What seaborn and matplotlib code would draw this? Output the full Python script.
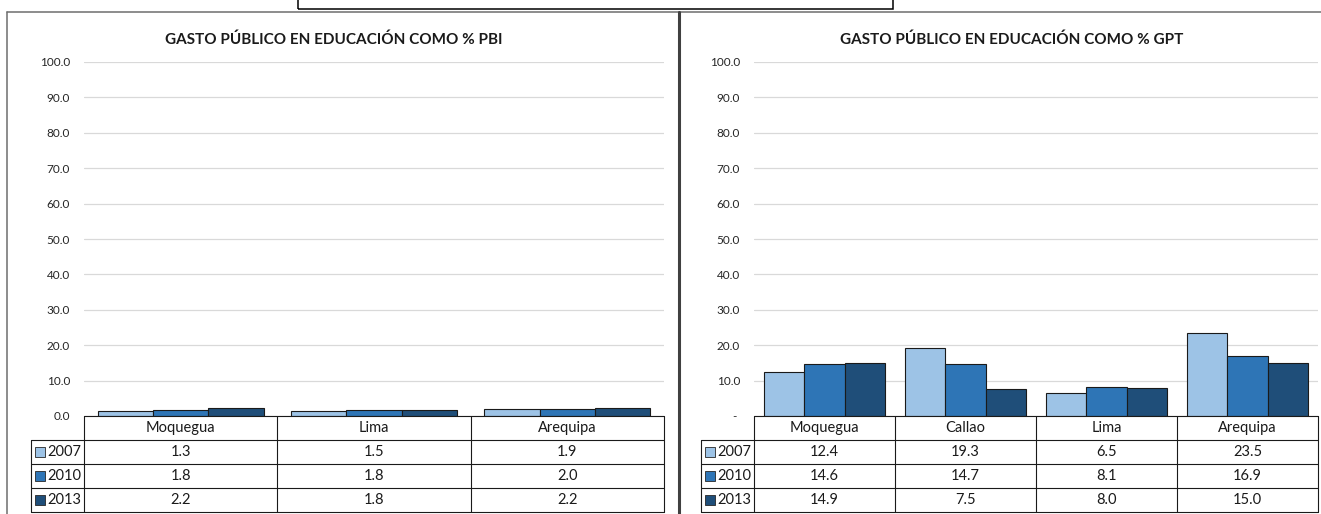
import numpy as np
import pandas as pd
import seaborn as sns
import matplotlib.pyplot as plt
from matplotlib.lines import Line2D
from matplotlib.patches import Rectangle

years = ["2007", "2010", "2013"]
colors = ["#9DC3E6", "#2E75B6", "#1F4E79"]

pbi_title = "GASTO PÚBLICO EN EDUCACIÓN COMO % PBI"
pbi_regions = ["Moquegua", "Lima", "Arequipa"]
pbi_2007 = [1.3, 1.5, 1.9]
pbi_2010 = [1.8, 1.8, 2.0]
pbi_2013 = [2.2, 1.8, 2.2]

gpt_title = "GASTO PÚBLICO EN EDUCACIÓN COMO % GPT"
gpt_regions = ["Moquegua", "Callao", "Lima", "Arequipa"]
gpt_2007 = [12.4, 19.3, 6.5, 23.5]
gpt_2010 = [14.6, 14.7, 8.1, 16.9]
gpt_2013 = [14.9, 7.5, 8.0, 15.0]

yticks = [0, 10, 20, 30, 40, 50, 60, 70, 80, 90, 100]

sns.set_theme(style="white")
plt.rcParams["font.family"] = ["Lato", "DejaVu Sans"]

W, H = 1321, 514
fig = plt.figure(figsize=(W / 100, H / 100), dpi=100)


def box(l, t, r, b):
    return [l / W, 1 - b / H, (r - l) / W, (b - t) / H]


def fline(x1, y1, x2, y2, color, lw):
    fig.add_artist(Line2D([x1 / W, x2 / W], [1 - y1 / H, 1 - y2 / H],
                          transform=fig.transFigure, color=color, lw=lw))


def panel(ax, regions, series, zero_label, px_width):
    n = len(regions)
    df = pd.DataFrame({
        "region": regions * len(years),
        "year": np.repeat(years, n),
        "value": np.concatenate(series),
    })
    sns.barplot(data=df, x="region", y="value", hue="year", hue_order=years,
                palette=colors, saturation=1, width=0.86, gap=0, errorbar=None,
                edgecolor="#1a1a1a", linewidth=0.8, legend=False, ax=ax)

    ax.set_yticks(yticks)
    ax.set_yticklabels([zero_label if v == 0 else f"{v:.1f}" for v in yticks])
    ax.set_xticks([])
    ax.set_xlabel("")
    ax.set_ylabel("")
    ax.tick_params(axis="y", length=0, pad=10, labelsize=8.5, colors="#262626")
    for s in ax.spines.values():
        s.set_visible(False)
    ax.grid(axis="y", color="#D9D9D9", lw=0.9)
    ax.set_axisbelow(True)

    # data table under the bars
    trans = ax.get_xaxis_transform()
    rh = 24 / 354
    colw = px_width / n
    lab_left = -0.5 - 53 / colw
    kw = dict(transform=trans, clip_on=False, color="#1a1a1a", lw=0.8)
    ax.plot([-0.5, n - 0.5], [0, 0], **kw)
    for r in range(1, 5):
        ax.plot([lab_left, n - 0.5], [-r * rh, -r * rh], **kw)
    for i in range(n + 1):
        ax.plot([i - 0.5, i - 0.5], [0, -4 * rh], **kw)
    ax.plot([lab_left, lab_left], [-rh, -4 * rh], **kw)

    for i, reg in enumerate(regions):
        ax.text(i, -0.5 * rh, reg, transform=trans, ha="center", va="center",
                fontsize=10.5, color="#1a1a1a")
    for r, (yr, col, vals) in enumerate(zip(years, colors, series)):
        yc = -(r + 1.5) * rh
        ax.plot([lab_left + 9 / colw], [yc], marker="s", ms=6.5, mfc=col,
                mec="#262626", mew=0.6, transform=trans, clip_on=False)
        ax.text(lab_left + 16 / colw, yc, yr, transform=trans, ha="left",
                va="center", fontsize=10.5, color="#1a1a1a")
        for i, v in enumerate(vals):
            ax.text(i, yc, f"{v:.1f}", transform=trans, ha="center",
                    va="center", fontsize=10.5, color="#1a1a1a")

    ax.set_xlim(-0.5, n - 0.5)
    ax.set_ylim(0, 100)


ax1 = fig.add_axes(box(84, 62, 664, 416))
panel(ax1, pbi_regions, [pbi_2007, pbi_2010, pbi_2013], "0.0", 580)

ax2 = fig.add_axes(box(754, 62, 1318, 416))
panel(ax2, gpt_regions, [gpt_2007, gpt_2010, gpt_2013], "- ", 564)

fig.text(334 / W, 1 - 40 / H, pbi_title, ha="center", va="center",
         fontsize=11, weight="bold", color="#1a1a1a")
fig.text(1012 / W, 1 - 40 / H, gpt_title, ha="center", va="center",
         fontsize=11, weight="bold", color="#1a1a1a")

# chart frames
fline(7, 12, 679, 12, "#6e6e6e", 1.1)
fline(7, 12, 7, 514, "#6e6e6e", 1.1)
fline(679, 12, 1321, 12, "#6e6e6e", 1.1)
fline(679, 12, 679, 514, "#404040", 2.2)

# box at the top
fig.add_artist(Rectangle((298 / W, 1 - 9 / H), (893 - 298) / W, 20 / H,
                         transform=fig.transFigure, fill=False,
                         edgecolor="#000000", lw=1.1))

fig.savefig("out.png", dpi=100)
